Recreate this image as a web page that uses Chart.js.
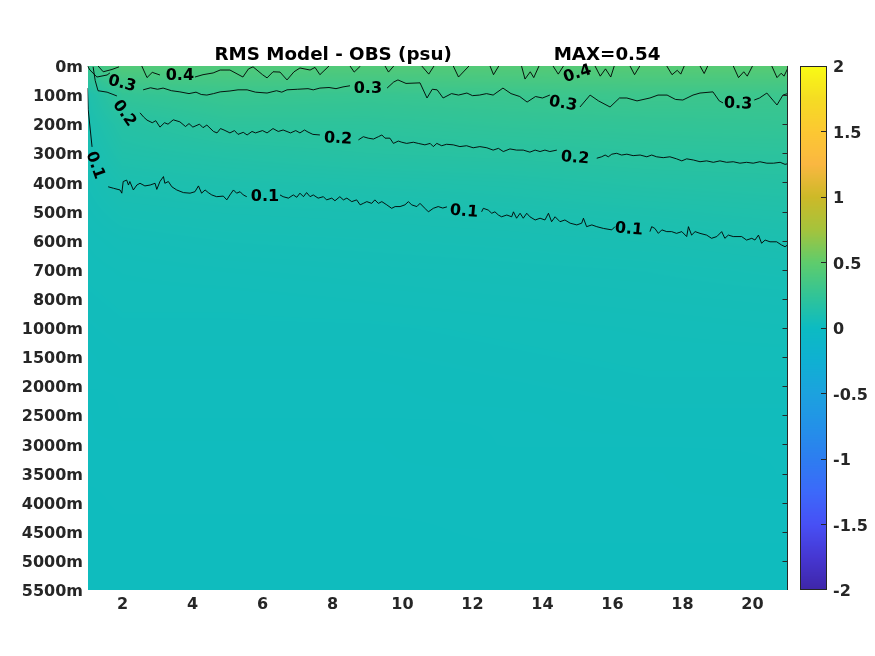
<!DOCTYPE html>
<html>
<head>
<meta charset="utf-8">
<script src="https://cdn.jsdelivr.net/npm/chart.js@4.4.1/dist/chart.umd.min.js"></script>
<style>
html, body { margin: 0; padding: 0; background: #fff; }
#wrap { width: 875px; height: 656px; }
</style>
</head>
<body>
<div id="wrap"><canvas id="rmsChart" width="875" height="656"></canvas></div>
<script>
// depth levels (rows of the field, evenly spaced on the y axis)
const depthLabels = ["0m", "100m", "200m", "300m", "400m", "500m", "600m", "700m", "800m",
    "1000m", "1500m", "2000m", "2500m", "3000m", "3500m", "4000m", "4500m", "5000m", "5500m"];
const xTickValues = [2, 4, 6, 8, 10, 12, 14, 16, 18, 20];
const colorbarTicks = [-2, -1.5, -1, -0.5, 0, 0.5, 1, 1.5, 2];

// RMS field (psu): one row per depth level, one column per fieldCols entry
const fieldCols = [1, 2, 5, 9, 13, 17, 21];
const rmsField = [
    [0.30, 0.43, 0.42, 0.43, 0.44, 0.45, 0.46],
    [0.12, 0.25, 0.29, 0.28, 0.295, 0.31, 0.30],
    [0.10, 0.17, 0.22, 0.22, 0.24, 0.25, 0.26],
    [0.08, 0.14, 0.16, 0.18, 0.19, 0.205, 0.21],
    [0.07, 0.105, 0.12, 0.13, 0.14, 0.16, 0.17],
    [0.06, 0.08, 0.09, 0.095, 0.105, 0.12, 0.135],
    [0.05, 0.06, 0.07, 0.075, 0.08, 0.09, 0.105],
    [0.045, 0.05, 0.055, 0.06, 0.065, 0.07, 0.08],
    [0.04, 0.045, 0.045, 0.05, 0.055, 0.06, 0.065],
    [0.035, 0.04, 0.04, 0.04, 0.045, 0.05, 0.055],
    [0.03, 0.035, 0.035, 0.035, 0.04, 0.045, 0.045],
    [0.03, 0.03, 0.03, 0.03, 0.035, 0.04, 0.04],
    [0.025, 0.03, 0.03, 0.03, 0.03, 0.035, 0.035],
    [0.025, 0.025, 0.025, 0.025, 0.03, 0.03, 0.03],
    [0.025, 0.025, 0.025, 0.025, 0.025, 0.025, 0.03],
    [0.02, 0.025, 0.025, 0.025, 0.025, 0.025, 0.025],
    [0.02, 0.02, 0.02, 0.02, 0.025, 0.025, 0.025],
    [0.02, 0.02, 0.02, 0.02, 0.02, 0.02, 0.02],
    [0.02, 0.02, 0.02, 0.02, 0.02, 0.02, 0.02],
];
const maxValue = 0.54;

// contour lines as [x, depth index] pairs, null = break (label gap)
const contour01 = [
    [1.0, 0.76], [1.02, 1.5], [1.08, 2.2], [1.13, 2.78], null,
    [1.59, 4.15], [1.74, 4.2], [1.93, 4.26], [1.98, 4.37], [2.02, 3.97], [2.12, 3.92], [2.17, 4.09],
    [2.21, 3.97], [2.31, 4.26], [2.41, 4.09], [2.5, 4.03], [2.64, 4.12], [2.79, 4.09], [2.93, 4.03],
    [2.98, 4.24], [3.07, 3.97], [3.17, 3.8], [3.21, 4.03], [3.31, 3.97], [3.41, 4.15], [3.55, 4.26],
    [3.74, 4.35], [3.93, 4.37], [4.07, 4.32], [4.17, 4.12], [4.26, 4.37], [4.36, 4.26], [4.45, 4.35],
    [4.55, 4.43], [4.69, 4.49], [4.88, 4.47], [4.98, 4.6], [5.07, 4.43], [5.17, 4.26], [5.26, 4.37],
    [5.36, 4.32], [5.45, 4.43], [5.55, 4.49], null,
    [6.5, 4.43], [6.59, 4.49], [6.74, 4.54], [6.88, 4.43], [6.98, 4.51], [7.07, 4.37], [7.17, 4.49],
    [7.26, 4.35], [7.36, 4.49], [7.45, 4.43], [7.59, 4.54], [7.74, 4.49], [7.83, 4.6], [7.98, 4.54],
    [8.07, 4.63], [8.21, 4.49], [8.31, 4.6], [8.41, 4.54], [8.55, 4.66], [8.69, 4.6], [8.79, 4.77],
    [8.88, 4.72], [8.98, 4.66], [9.12, 4.72], [9.21, 4.6], [9.31, 4.72], [9.41, 4.66], [9.55, 4.77],
    [9.69, 4.89], [9.79, 4.83], [9.93, 4.83], [10.07, 4.77], [10.17, 4.66], [10.26, 4.77], [10.41, 4.83],
    [10.5, 4.72], [10.64, 4.89], [10.74, 5.01], [10.88, 4.89], [11.02, 4.83], [11.15, 4.88], [11.27, 4.84], null,
    [12.26, 5.01], [12.31, 4.89], [12.45, 4.95], [12.55, 5.06], [12.64, 5.01], [12.74, 5.12], [12.83, 5.18],
    [12.98, 5.12], [13.12, 5.18], [13.17, 5.01], [13.26, 5.23], [13.36, 5.06], [13.45, 5.23], [13.55, 5.06],
    [13.64, 5.18], [13.79, 5.29], [13.93, 5.23], [14.07, 5.29], [14.17, 5.06], [14.26, 5.35], [14.36, 5.18],
    [14.5, 5.35], [14.64, 5.29], [14.79, 5.4], [14.98, 5.46], [15.12, 5.4], [15.17, 5.23], [15.26, 5.52],
    [15.41, 5.46], [15.55, 5.52], [15.74, 5.58], [15.98, 5.63], [16.07, 5.52], null,
    [17.07, 5.69], [17.12, 5.52], [17.21, 5.58], [17.31, 5.75], [17.41, 5.63], [17.55, 5.69], [17.69, 5.69],
    [17.83, 5.75], [17.98, 5.69], [18.12, 5.86], [18.17, 5.52], [18.26, 5.81], [18.36, 5.69], [18.5, 5.75],
    [18.69, 5.81], [18.83, 5.92], [18.98, 5.86], [19.12, 5.69], [19.21, 5.92], [19.31, 5.81], [19.45, 5.86],
    [19.69, 5.86], [19.83, 5.98], [19.98, 5.92], [20.07, 5.98], [20.17, 5.81], [20.26, 6.09], [20.36, 5.98],
    [20.5, 6.04], [20.69, 6.04], [20.83, 6.15], [20.93, 6.21], [21.0, 6.15],
];
const contour02 = [
    [1.16, 0.03], [1.22, 0.5], [1.3, 0.85], [1.56, 0.9], [1.84, 1.03], null,
    [2.5, 1.61], [2.6, 1.75], [2.7, 1.86], [2.85, 1.95], [2.95, 1.88], [3.07, 2.1], [3.2, 1.95],
    [3.3, 2.0], [3.45, 1.85], [3.64, 1.92], [3.8, 2.08], [3.9, 1.98], [4.01, 2.1], [4.2, 2.0],
    [4.3, 2.12], [4.41, 2.03], [4.6, 2.25], [4.7, 2.3], [4.8, 2.15], [4.9, 2.2], [5.07, 2.3],
    [5.2, 2.22], [5.3, 2.35], [5.45, 2.28], [5.56, 2.37], [5.7, 2.25], [5.8, 2.3], [6.0, 2.22],
    [6.13, 2.3], [6.3, 2.15], [6.45, 2.25], [6.59, 2.2], [6.8, 2.3], [6.95, 2.22], [7.07, 2.3],
    [7.2, 2.2], [7.3, 2.27], [7.44, 2.35], [7.64, 2.37], null,
    [8.74, 2.54], [8.88, 2.43], [9.02, 2.48], [9.17, 2.51], [9.31, 2.43], [9.41, 2.37], [9.5, 2.48],
    [9.64, 2.48], [9.74, 2.66], [9.88, 2.58], [9.98, 2.62], [10.12, 2.66], [10.31, 2.62], [10.45, 2.66],
    [10.64, 2.71], [10.79, 2.66], [10.88, 2.77], [10.98, 2.66], [11.12, 2.74], [11.26, 2.69], [11.45, 2.71],
    [11.64, 2.77], [11.83, 2.74], [12.02, 2.81], [12.21, 2.77], [12.41, 2.81], [12.59, 2.89], [12.74, 2.83],
    [12.88, 2.94], [13.07, 2.85], [13.26, 2.89], [13.45, 2.89], [13.64, 2.96], [13.79, 2.89], [13.93, 2.94],
    [14.07, 2.89], [14.21, 2.94], [14.41, 2.89], null,
    [15.55, 3.17], [15.69, 3.12], [15.79, 3.06], [15.88, 3.12], [15.98, 3.03], [16.12, 3.0], [16.26, 3.06],
    [16.41, 3.03], [16.59, 3.08], [16.79, 3.06], [16.98, 3.12], [17.12, 3.06], [17.26, 3.12], [17.45, 3.15],
    [17.64, 3.12], [17.83, 3.19], [17.98, 3.26], [18.12, 3.19], [18.31, 3.23], [18.5, 3.29], [18.69, 3.26],
    [18.88, 3.31], [19.07, 3.26], [19.26, 3.31], [19.45, 3.29], [19.64, 3.34], [19.83, 3.31], [20.02, 3.34],
    [20.21, 3.29], [20.41, 3.34], [20.6, 3.34], [20.79, 3.31], [20.93, 3.38], [21.0, 3.36],
];
const contour03 = [
    [1.0, 0.0], [1.07, 0.14], [1.27, 0.38], [1.56, 0.31], [1.64, 0.24], null,
    [2.59, 0.82], [2.8, 0.75], [3.0, 0.8], [3.16, 0.76], [3.4, 0.85], [3.64, 0.89], [3.9, 0.95],
    [4.1, 0.9], [4.25, 0.98], [4.41, 1.0], [4.6, 0.95], [4.79, 0.89], [5.07, 0.86], [5.3, 0.82],
    [5.56, 0.82], [5.8, 0.9], [6.13, 0.93], [6.4, 0.85], [6.55, 0.9], [6.7, 0.82], [7.0, 0.8],
    [7.3, 0.78], [7.45, 0.82], [7.64, 0.76], [7.9, 0.74], [8.1, 0.78], [8.3, 0.72], [8.5, 0.68], null,
    [9.56, 0.76], [9.75, 0.55], [9.87, 0.48], [10.1, 0.6], [10.5, 0.58], [10.7, 1.1], [10.85, 0.8],
    [10.99, 0.82], [11.16, 1.1], [11.4, 0.95], [11.6, 1.0], [11.84, 0.93], [12.0, 1.02], [12.2, 1.0],
    [12.4, 0.95], [12.59, 1.0], [12.87, 0.76], [13.1, 0.95], [13.35, 1.05], [13.56, 1.24], [13.8, 1.05],
    [14.0, 1.1], [14.21, 1.0], null,
    [15.07, 1.41], [15.36, 1.0], [15.6, 1.2], [15.93, 1.41], [16.2, 1.1], [16.41, 1.1], [16.7, 1.2],
    [17.07, 1.1], [17.3, 1.0], [17.56, 1.0], [17.8, 1.15], [18.01, 1.17], [18.3, 1.0], [18.5, 0.93],
    [18.87, 0.89], [19.05, 1.2], [19.16, 1.27], null,
    [20.05, 1.17], [20.2, 1.1], [20.41, 0.93], [20.6, 1.2], [20.7, 1.34], [20.87, 1.0], [21.0, 0.95],
];
const contour04 = [
    [1.3, 0.0], [1.45, 0.2], [1.7, 0.12], [1.9, 0.03], null,
    [2.55, 0.0], [2.7, 0.4], [2.85, 0.22], [3.07, 0.31], null,
    [4.07, 0.38], [4.3, 0.3], [4.59, 0.24], [4.79, 0.14], [5.07, 0.14], [5.44, 0.38], [5.6, 0.1],
    [5.73, 0.03], [6.0, 0.3], [6.13, 0.41], [6.3, 0.2], [6.5, 0.21], [6.7, 0.48], [6.9, 0.2],
    [7.07, 0.07], [7.36, 0.14], [7.5, 0.05], [7.64, 0.3], [7.9, 0.0], null,
    [8.5, 0.0], [8.62, 0.21], [8.8, 0.0], null,
    [9.5, 0.0], [9.6, 0.21], [9.75, 0.0], null,
    [10.55, 0.0], [10.75, 0.28], [10.9, 0.0], null,
    [11.45, 0.0], [11.6, 0.38], [11.9, 0.0], null,
    [12.5, 0.0], [12.6, 0.3], [12.75, 0.0], null,
    [13.4, 0.0], [13.5, 0.45], [13.65, 0.2], [13.75, 0.4], [13.9, 0.0], null,
    [14.3, 0.0], [14.45, 0.28], [14.6, 0.0], null,
    [15.5, 0.0], [15.65, 0.35], [15.8, 0.1], [15.95, 0.38], [16.05, 0.0], null,
    [16.5, 0.0], [16.63, 0.3], [16.78, 0.0], null,
    [17.55, 0.0], [17.7, 0.3], [17.85, 0.15], [17.95, 0.28], [18.05, 0.0], null,
    [18.5, 0.0], [18.62, 0.26], [18.72, 0.0], null,
    [19.45, 0.0], [19.6, 0.4], [19.75, 0.2], [19.85, 0.35], [20.0, 0.0], null,
    [20.55, 0.0], [20.7, 0.4], [20.82, 0.25], [20.9, 0.35], [21.0, 0.1],
];

// contour labels: text, x, depth index, rotation (deg)
const contourLabels = [
    ["0.3", 1.99, 0.58, 15], ["0.4", 3.64, 0.31, 0], ["0.2", 2.07, 1.61, 55], ["0.1", 1.24, 3.40, 70],
    ["0.1", 6.07, 4.47, 0], ["0.3", 9.01, 0.76, 0], ["0.2", 8.16, 2.47, 3], ["0.1", 11.76, 4.97, 5],
    ["0.4", 14.99, 0.24, -18], ["0.3", 14.59, 1.27, 10], ["0.2", 14.93, 3.13, 5], ["0.1", 16.47, 5.58, 5],
    ["0.3", 19.59, 1.27, 2],
];

const CB_MIN = -2;
const CB_MAX = 2;
const TICK_COLOR = "#262626";
const FONT_FAMILY = "'DejaVu Sans', sans-serif";

// parula-like colormap stops
const parulaStops = [
    [0.0, 62, 38, 168], [0.0625, 70, 55, 210], [0.125, 71, 80, 245], [0.1875, 60, 105, 250],
    [0.25, 45, 125, 240], [0.3125, 35, 145, 232], [0.375, 28, 162, 222], [0.4375, 15, 176, 210],
    [0.5, 12, 187, 194], [0.5625, 50, 196, 150], [0.625, 95, 204, 108], [0.6875, 165, 195, 60],
    [0.75, 205, 185, 40], [0.8125, 250, 183, 65], [0.875, 252, 200, 50], [0.9375, 245, 220, 35],
    [1.0, 249, 251, 20],
];

function parula(t) {
    t = Math.max(0, Math.min(1, t));
    for (let i = 0; i < parulaStops.length - 1; i++) {
        const a = parulaStops[i], b = parulaStops[i + 1];
        if (t <= b[0]) {
            const f = (t - a[0]) / (b[0] - a[0]);
            return [a[1] + (b[1] - a[1]) * f, a[2] + (b[2] - a[2]) * f, a[3] + (b[3] - a[3]) * f];
        }
    }
    const last = parulaStops[parulaStops.length - 1];
    return [last[1], last[2], last[3]];
}

function fieldAt(xv, dv) {
    let i = 0;
    while (i < fieldCols.length - 2 && xv > fieldCols[i + 1]) i++;
    const fx = Math.max(0, Math.min(1, (xv - fieldCols[i]) / (fieldCols[i + 1] - fieldCols[i])));
    let j = Math.max(0, Math.min(rmsField.length - 2, Math.floor(dv)));
    const fy = Math.max(0, Math.min(1, dv - j));
    const top = rmsField[j][i] * (1 - fx) + rmsField[j][i + 1] * fx;
    const bot = rmsField[j + 1][i] * (1 - fx) + rmsField[j + 1][i + 1] * fx;
    return top * (1 - fy) + bot * fy;
}

function toPoints(pairs) {
    let points = [];
    let lastX = 1;
    for (const p of pairs) {
        if (p === null) {
            points.push({ x: lastX, y: null });
        } else {
            points.push({ x: p[0], y: p[1] });
            lastX = p[0];
        }
    }
    return points;
}

const fieldPlugin = {
    id: "fieldPlugin",
    beforeDatasetsDraw(chart) {
        const { ctx, chartArea, scales } = chart;
        const left = Math.round(chartArea.left);
        const top = Math.round(chartArea.top);
        const w = Math.round(chartArea.right) - left;
        const h = Math.round(chartArea.bottom) - top;
        const off = document.createElement("canvas");
        off.width = w;
        off.height = h;
        const octx = off.getContext("2d");
        const img = octx.createImageData(w, h);
        for (let j = 0; j < h; j++) {
            const dv = scales.y.getValueForPixel(top + j + 0.5);
            for (let i = 0; i < w; i++) {
                const xv = scales.x.getValueForPixel(left + i + 0.5);
                const c = parula((fieldAt(xv, dv) - CB_MIN) / (CB_MAX - CB_MIN));
                const k = (j * w + i) * 4;
                img.data[k] = c[0];
                img.data[k + 1] = c[1];
                img.data[k + 2] = c[2];
                img.data[k + 3] = 255;
            }
        }
        octx.putImageData(img, 0, 0);
        ctx.drawImage(off, left, top);
    },
    afterDatasetsDraw(chart) {
        const { ctx, chartArea, scales } = chart;

        // contour labels
        ctx.save();
        ctx.fillStyle = "#000";
        ctx.font = "bold 16px " + FONT_FAMILY;
        ctx.textAlign = "center";
        ctx.textBaseline = "middle";
        for (const lab of contourLabels) {
            const px = scales.x.getPixelForValue(lab[1]);
            const py = scales.y.getPixelForValue(lab[2]);
            ctx.save();
            ctx.translate(px, py);
            ctx.rotate(lab[3] * Math.PI / 180);
            ctx.fillText(lab[0], 0, 1);
            ctx.restore();
        }
        ctx.restore();

        // right axis line with inward ticks
        ctx.save();
        ctx.strokeStyle = TICK_COLOR;
        ctx.lineWidth = 1;
        ctx.beginPath();
        const rx = Math.round(chartArea.right) - 0.5;
        ctx.moveTo(rx, chartArea.top);
        ctx.lineTo(rx, chartArea.bottom);
        for (let i = 1; i < depthLabels.length - 1; i++) {
            const py = Math.round(scales.y.getPixelForValue(i)) + 0.5;
            ctx.moveTo(rx, py);
            ctx.lineTo(rx - 5, py);
        }
        ctx.stroke();
        ctx.restore();

        // colorbar
        const cb = scales.cb;
        const cbLeft = Math.round(chartArea.right) + 12;
        const cbWidth = 27;
        for (let py = Math.round(cb.top); py < Math.round(cb.bottom); py++) {
            const c = parula((cb.getValueForPixel(py + 0.5) - CB_MIN) / (CB_MAX - CB_MIN));
            ctx.fillStyle = "rgb(" + Math.round(c[0]) + "," + Math.round(c[1]) + "," + Math.round(c[2]) + ")";
            ctx.fillRect(cbLeft, py, cbWidth, 1);
        }
        ctx.save();
        ctx.strokeStyle = TICK_COLOR;
        ctx.lineWidth = 1;
        ctx.strokeRect(cbLeft + 0.5, Math.round(cb.top) + 0.5, cbWidth - 1, Math.round(cb.bottom) - Math.round(cb.top) - 1);
        ctx.beginPath();
        for (const v of colorbarTicks) {
            if (v === CB_MIN || v === CB_MAX) continue;
            const py = Math.round(cb.getPixelForValue(v)) + 0.5;
            ctx.moveTo(cbLeft + cbWidth - 1, py);
            ctx.lineTo(cbLeft + cbWidth - 6, py);
        }
        ctx.stroke();
        ctx.restore();
    },
};

const contourDataset = function (pairs) {
    return {
        data: toPoints(pairs),
        borderColor: "#000",
        borderWidth: 0.9,
        pointRadius: 0,
        tension: 0,
        spanGaps: false,
        fill: false,
    };
};

const tickFont = { family: FONT_FAMILY, size: 16, weight: "bold" };

new Chart(document.getElementById("rmsChart"), {
    type: "line",
    data: {
        datasets: [
            contourDataset(contour01),
            contourDataset(contour02),
            contourDataset(contour03),
            contourDataset(contour04),
        ],
    },
    options: {
        responsive: false,
        devicePixelRatio: 1,
        animation: false,
        layout: { padding: 0 },
        plugins: {
            legend: { display: false },
            tooltip: { enabled: false },
            title: {
                display: true,
                text: "RMS Model - OBS (psu)                MAX=" + maxValue.toFixed(2),
                color: "#000",
                font: { family: FONT_FAMILY, size: 18.3, weight: "bold", lineHeight: 1.2 },
                padding: { top: 44, bottom: 0 },
            },
        },
        scales: {
            x: {
                type: "linear",
                position: "bottom",
                min: 1,
                max: 21,
                afterBuildTicks: (scale) => {
                    scale.ticks = xTickValues.map((v) => ({ value: v }));
                },
                afterFit: (scale) => {
                    scale.height = 66;
                },
                grid: { display: false, drawTicks: false },
                border: { display: false },
                ticks: { font: tickFont, color: TICK_COLOR, padding: 5, maxRotation: 0 },
            },
            y: {
                type: "linear",
                position: "left",
                min: 0,
                max: depthLabels.length - 1,
                reverse: true,
                afterBuildTicks: (scale) => {
                    scale.ticks = depthLabels.map((_, i) => ({ value: i }));
                },
                afterFit: (scale) => {
                    scale.width = 87.5;
                },
                grid: { display: false, drawTicks: false },
                border: { display: false },
                ticks: {
                    font: tickFont,
                    color: TICK_COLOR,
                    padding: 4.5,
                    labelOffset: 2,
                    callback: (value) => depthLabels[value],
                },
            },
            cb: {
                type: "linear",
                position: "right",
                min: CB_MIN,
                max: CB_MAX,
                afterBuildTicks: (scale) => {
                    scale.ticks = colorbarTicks.map((v) => ({ value: v }));
                },
                afterFit: (scale) => {
                    scale.width = 87.5;
                },
                grid: { display: false, drawTicks: false },
                border: { display: false },
                ticks: {
                    font: tickFont,
                    color: TICK_COLOR,
                    padding: 45.5,
                    labelOffset: 2,
                    callback: (value) => String(value),
                },
            },
        },
    },
    plugins: [fieldPlugin],
});
</script>
</body>
</html>
